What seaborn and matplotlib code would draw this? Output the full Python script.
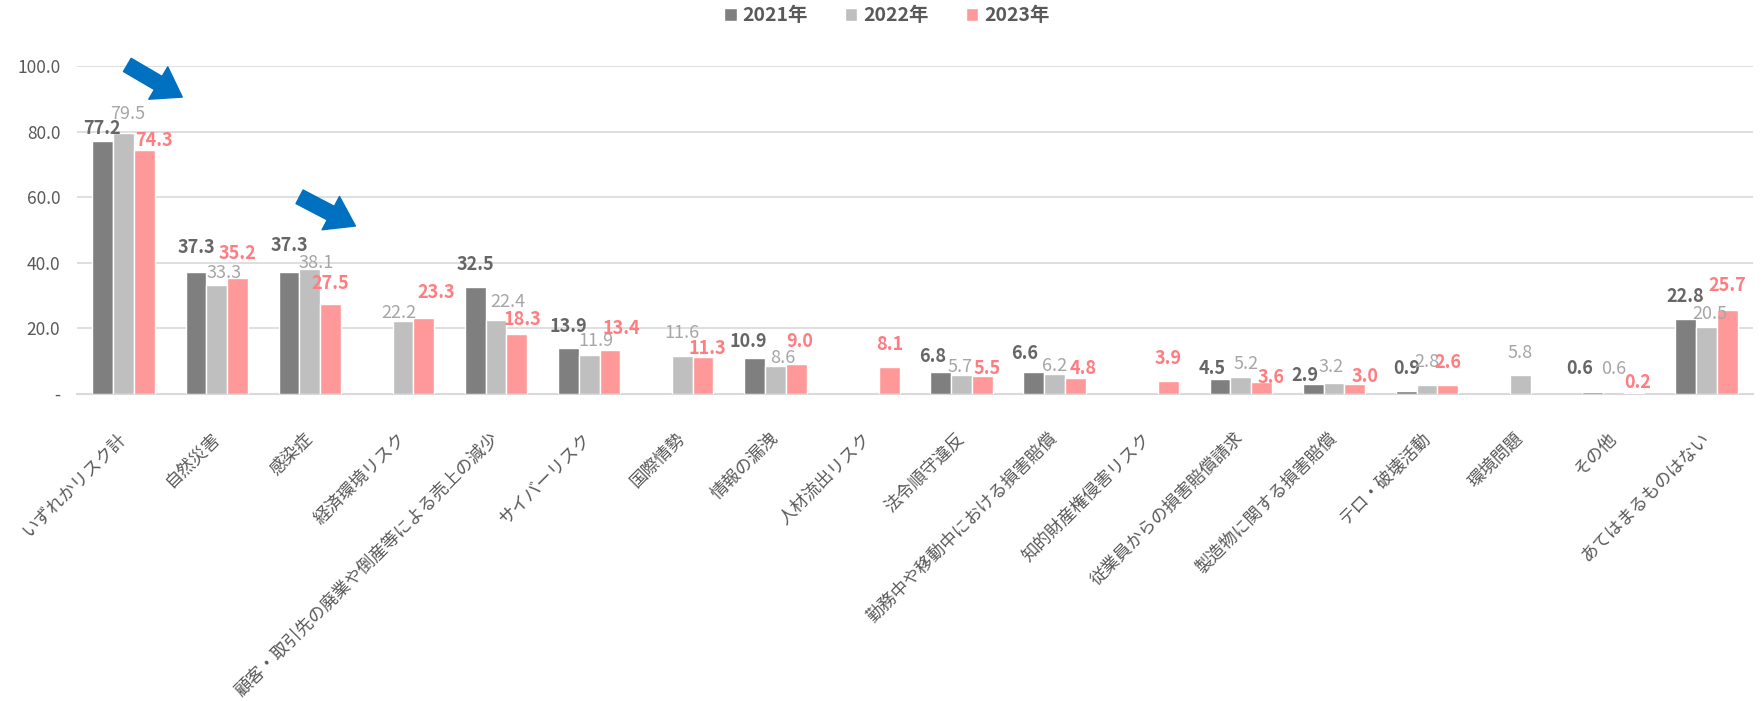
import matplotlib
matplotlib.use('Agg')
import matplotlib.pyplot as plt
import numpy as np
import pandas as pd
import seaborn as sns
from matplotlib.ticker import FuncFormatter

# Chart data.
categories = [
    'いずれかリスク計', '自然災害', '感染症', '経済環境リスク',
    '顧客・取引先の廃業や倒産等による売上の減少', 'サイバーリスク', '国際情勢',
    '情報の漏洩', '人材流出リスク', '法令順守違反', '勤務中や移動中における損害賠償',
    '知的財産権侵害リスク', '従業員からの損害賠償請求', '製造物に関する損害賠償',
    'テロ・破壊活動', '環境問題', 'その他', 'あてはまるものはない',
]
years = ['2021年', '2022年', '2023年']
values_2021 = [77.2, 37.3, 37.3, np.nan, 32.5, 13.9, np.nan, 10.9, np.nan,
               6.8, 6.6, np.nan, 4.5, 2.9, 0.9, np.nan, 0.6, 22.8]
values_2022 = [79.5, 33.3, 38.1, 22.2, 22.4, 11.9, 11.6, 8.6, np.nan,
               5.7, 6.2, np.nan, 5.2, 3.2, 2.8, 5.8, 0.6, 20.5]
values_2023 = [74.3, 35.2, 27.5, 23.3, 18.3, 13.4, 11.3, 9.0, 8.1,
               5.5, 4.8, 3.9, 3.6, 3.0, 2.6, np.nan, 0.2, 25.7]

bar_colors = ['#7f7f7f', '#bfbfbf', '#ff9999']
label_colors = ['#666666', '#a6a6a6', '#ff7c80']
label_weights = ['bold', 'normal', 'bold']

# Hand nudges of the value labels (pixels), as placed in the original.
nudge_x = [
    [-1, 0, 0, 0, 0, 0, 0, -6, 0, -8, -9, 0, -8, -8, 0, 0, -13, 0],
    [4, 7, 6, -4, 12, 7, 0, 7, 0, -1, 0, 0, 5, -3, 0, 0, 0, 3],
    [10, 0, 0, 12, 6, 11, 4, 4, 0, 5, 8, 0, 9, 10, 0, 0, 4, 0],
]
nudge_y = [
    [13, 25, 27, 0, 24, 23, 0, 18, 0, 16, 20, 0, 12, 10, 24, 0, 24, 24],
    [21, 13, 7, 10, 20, 15, 24, 9, 0, 10, 9, 0, 14, 18, 24, 23, 24, 14],
    [11, 26, 21, 26, 15, 23, 9, 24, 24, 8, 11, 24, 6, 9, 24, 0, 12, 25],
]

# Long table for seaborn.
df = pd.DataFrame({
    'category': categories * 3,
    'year': [y for y in years for _ in categories],
    'value': values_2021 + values_2022 + values_2023,
}).dropna()

sns.set_theme(style='white')
plt.rcParams['font.family'] = ['Noto Sans CJK JP', 'DejaVu Sans']

fig = plt.figure(figsize=(17.63, 7.01), dpi=100)
ax = fig.add_axes([0.0437, 0.438, 0.9506, 0.468])

sns.barplot(data=df, x='category', y='value', hue='year', order=categories,
            hue_order=years, palette=bar_colors, saturation=1, width=0.67,
            edgecolor='white', linewidth=1, ax=ax, zorder=3)

# Value labels.
for i, container in enumerate(ax.containers):
    for bar in container:
        h = bar.get_height()
        if np.isnan(h):
            continue
        cx = bar.get_x() + bar.get_width() / 2
        k = int(round(cx))
        ax.annotate(f'{h:.1f}', (cx, h),
                    xytext=(nudge_x[i][k], nudge_y[i][k] - 6.5),
                    textcoords='offset pixels', ha='center', va='baseline',
                    color=label_colors[i], fontweight=label_weights[i],
                    fontsize=13, zorder=5)

ax.set_xlim(-0.5, len(categories) - 0.5)
ax.set_ylim(0, 100)
ax.set_yticks([0, 20, 40, 60, 80, 100])
ax.yaxis.set_major_formatter(FuncFormatter(lambda v, p: '-' if v == 0 else f'{v:.1f}'))
ax.grid(axis='y', color='#d9d9d9', linewidth=1.2, zorder=0)
ax.grid(axis='x', visible=False)
for s in ['top', 'right', 'left']:
    ax.spines[s].set_visible(False)
ax.spines['bottom'].set_color('#d9d9d9')
ax.spines['bottom'].set_linewidth(1.5)
ax.set_xlabel('')
ax.set_ylabel('')
ax.tick_params(axis='y', length=0, pad=12, labelsize=12.5, labelcolor='#595959')
ax.tick_params(axis='x', length=0, pad=30, labelsize=12.5, labelcolor='#595959')
plt.setp(ax.get_xticklabels(), rotation=45, ha='right', va='center',
         rotation_mode='anchor')

# Legend at top.
ax.legend(loc='center', bbox_to_anchor=(0.503, 0.978), bbox_transform=fig.transFigure,
          ncol=3, frameon=False, handlelength=0.65, handleheight=0.65,
          handletextpad=0.3, columnspacing=1.9,
          prop={'size': 14, 'weight': 'bold'}, labelcolor='#595959')

# Blue arrows.
arrow = dict(arrowstyle='simple,head_length=1.0,head_width=1.35,tail_width=0.55',
             color='#0070c0', mutation_scale=20, shrinkA=0, shrinkB=0)
ax.annotate('', xy=(0.63, 90.5), xytext=(0.04, 100.3), arrowprops=arrow,
            annotation_clip=False)
ax.annotate('', xy=(2.49, 51.2), xytext=(1.89, 60.1), arrowprops=arrow,
            annotation_clip=False)

fig.savefig('out.png', dpi=100)
